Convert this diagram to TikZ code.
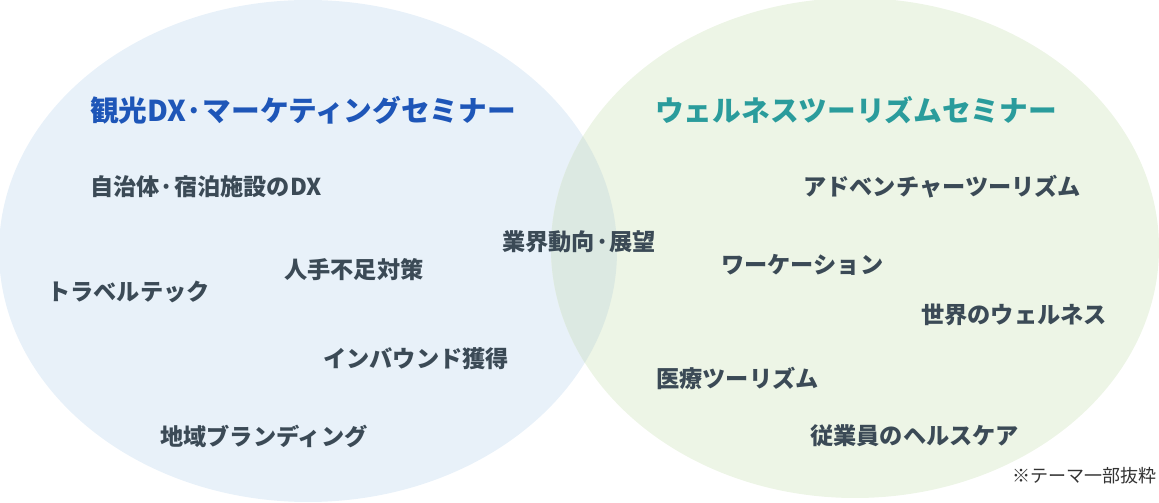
\documentclass[tikz,border=0pt]{standalone}
\usepackage{fontspec}
\setmainfont{Noto Sans CJK JP}
\usetikzlibrary{positioning}
\definecolor{dxfill}{HTML}{E8F1F9}
\definecolor{wellfill}{HTML}{EDF5E6}
\definecolor{bothfill}{HTML}{DCE9E2}
\definecolor{dxblue}{HTML}{1E56B8}
\definecolor{wellteal}{HTML}{2A9C9C}
\definecolor{itemtext}{HTML}{3B4A56}
\definecolor{notetext}{HTML}{333333}

\begin{document}
\begin{tikzpicture}[x=0.025cm, y=-0.025cm]
    \tikzstyle{title} = [anchor=west, inner sep=0pt,
        font=\fontsize{20.4}{22}\selectfont\bfseries]
    \tikzstyle{theme} = [anchor=west, inner sep=0pt, text=itemtext,
        font=\fontsize{16.5}{18}\selectfont\bfseries]
    \useasboundingbox (0,0) rectangle (1159,503);
    % the two seminars
    \fill[dxfill] (308,251) ellipse [x radius=309, y radius=251];
    \fill[wellfill] (855,248) ellipse [x radius=304, y radius=250];
    \begin{scope}
        \clip (308,251) ellipse [x radius=309, y radius=251];
        \fill[bothfill] (855,248) ellipse [x radius=304, y radius=250];
    \end{scope}
    % left circle
    \node (dxtitle) [title, text=dxblue] at (90,110) {観光DX·マーケティングセミナー};
    \node (dxgov) [theme] at (90,187) {自治体·宿泊施設のDX};
    \node (labor) [theme] at (284,270) {人手不足対策};
    \node (traveltech) [theme] at (47,292) {トラベルテック};
    \node (inbound) [theme] at (323,359) {インバウンド獲得};
    \node (branding) [theme] at (160,436) {地域ブランディング};
    % overlap
    \node (trend) [theme] at (502,242) {業界動向·展望};
    % right circle
    \node (welltitle) [title, text=wellteal] at (655,110) {ウェルネスツーリズムセミナー};
    \node (adventure) [theme] at (803,187) {アドベンチャーツーリズム};
    \node (workation) [theme] at (721,265) {ワーケーション};
    \node (worldwell) [theme] at (921,315) {世界のウェルネス};
    \node (medical) [theme] at (656,378) {医療ツーリズム};
    \node (staffcare) [theme] at (810,436) {従業員のヘルスケア};
    \node (note) [anchor=west, inner sep=0pt, text=notetext,
        font=\fontsize{12.8}{14}\selectfont] at (1012,476) {※テーマ一部抜粋};
\end{tikzpicture}
\end{document}
